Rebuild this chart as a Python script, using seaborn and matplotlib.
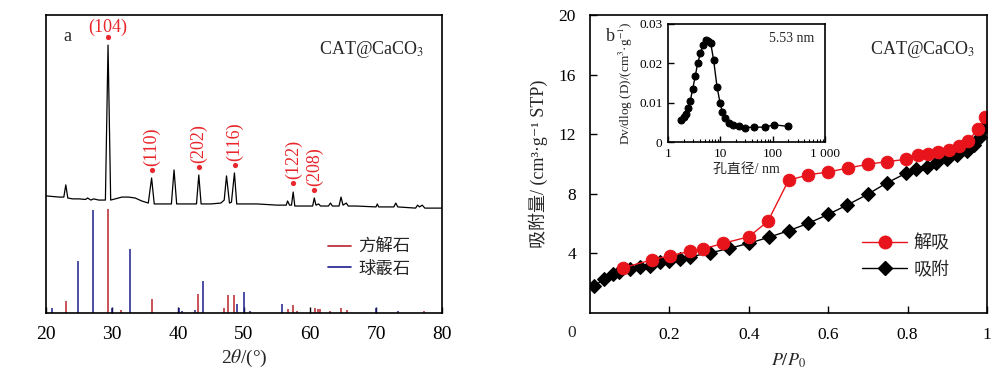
import matplotlib
matplotlib.use("Agg")
import matplotlib.pyplot as plt
from matplotlib.lines import Line2D
import seaborn as sns

# ---- panel a: XRD of CAT@CaCO3 (a.u.) ----
xrd_2theta = [20.0, 21.0, 22.0, 22.7, 23.0, 23.3, 24.0, 25.0, 26.0, 26.3, 26.8, 27.2,
              28.0, 29.0, 29.4, 29.8, 30.5, 31.5, 32.5, 33.5, 34.5, 35.5, 36.0, 36.4,
              37.0, 38.0, 39.0, 39.4, 39.8, 41.0, 42.5, 42.8, 43.15, 43.5, 45.0, 46.5,
              47.0, 47.35, 47.8, 48.1, 48.55, 48.9, 50.0, 52.0, 55.0, 56.4, 56.6, 56.9,
              57.2, 57.45, 57.7, 59.0, 60.4, 60.65, 60.9, 61.3, 61.6, 62.8, 63.1, 63.4,
              64.4, 64.7, 65.0, 65.5, 65.8, 67.0, 70.0, 70.2, 70.4, 72.7, 73.0, 73.3,
              76.0, 76.3, 76.6, 77.0, 77.4, 80.0]
xrd_int = [39.3, 39.1, 38.9, 38.9, 43.0, 38.6, 38.3, 38.3, 38.1, 38.6, 37.9, 38.3,
           37.9, 37.9, 89.9, 37.9, 38.3, 38.9, 38.9, 38.6, 37.6, 36.9, 45.3, 36.6,
           36.6, 36.6, 36.6, 48.0, 36.6, 36.6, 36.6, 36.6, 46.3, 36.6, 36.6, 36.9,
           37.9, 46.0, 36.9, 37.2, 47.0, 36.6, 36.6, 36.6, 36.2, 36.2, 37.6, 36.2,
           36.2, 40.6, 35.9, 35.9, 35.9, 38.6, 36.2, 36.6, 35.9, 35.9, 36.9, 35.9,
           35.9, 38.9, 36.2, 36.9, 35.9, 35.9, 35.6, 36.6, 35.6, 35.6, 36.9, 35.6,
           35.2, 36.2, 35.6, 36.2, 35.2, 35.2]

calcite_2theta = [23.0, 29.4, 31.4, 36.0, 43.1, 47.0, 47.5, 48.5, 56.6, 57.4, 58.1,
                  60.7, 61.2, 61.5, 63.1, 64.7, 65.6, 77.2]
calcite_int = [4.0, 34.8, 1.0, 4.8, 6.3, 1.6, 6.0, 6.0, 1.3, 2.7, 0.7,
               1.8, 1.3, 1.3, 0.7, 1.8, 1.0, 0.7]
vaterite_2theta = [20.95, 24.9, 27.05, 30.0, 32.75, 40.1, 40.6, 42.6, 43.85, 49.0,
                   50.0, 50.95, 55.75, 70.0, 73.4]
vaterite_int = [1.6, 17.6, 34.6, 1.8, 21.4, 1.6, 0.7, 1.0, 10.6, 3.1,
                7.0, 0.7, 2.9, 1.6, 0.7]

hkl_labels = ["(104)", "(110)", "(202)", "(116)", "(122)", "(208)"]
hkl_2theta = [29.4, 36.0, 43.15, 48.6, 57.45, 60.65]
hkl_dot = [92.6, 48.0, 49.0, 49.7, 43.6, 41.3]

# ---- panel b: N2 isotherm ----
p_ads = [0.011, 0.035, 0.057, 0.073, 0.102, 0.126, 0.150, 0.176, 0.200, 0.227, 0.251,
         0.302, 0.351, 0.400, 0.450, 0.500, 0.550, 0.600, 0.648, 0.699, 0.747, 0.796,
         0.820, 0.850, 0.872, 0.898, 0.925, 0.949, 0.966, 0.982, 0.995]
v_ads = [1.81, 2.28, 2.60, 2.73, 2.93, 3.11, 3.13, 3.40, 3.49, 3.62, 3.78,
         4.03, 4.34, 4.68, 5.08, 5.52, 6.02, 6.62, 7.25, 7.96, 8.72, 9.38,
         9.64, 9.82, 10.09, 10.31, 10.58, 10.89, 11.28, 11.83, 12.50]
p_des = [0.084, 0.155, 0.201, 0.252, 0.285, 0.336, 0.400, 0.448, 0.500, 0.550, 0.600,
         0.649, 0.700, 0.747, 0.796, 0.825, 0.852, 0.877, 0.904, 0.930, 0.953, 0.977, 0.995]
v_des = [3.04, 3.56, 3.85, 4.14, 4.30, 4.68, 5.12, 6.15, 8.90, 9.28, 9.46,
         9.73, 9.98, 10.16, 10.31, 10.58, 10.65, 10.83, 10.94, 11.21, 11.56, 12.33, 13.17]

# pore size distribution (inset)
pore_d = [1.80, 1.99, 2.17, 2.37, 2.67, 2.95, 3.33, 3.68, 4.15, 4.67, 5.24, 5.82,
          6.53, 7.45, 8.65, 9.87, 10.9, 12.5, 14.7, 17.5, 22.4, 29.2, 44.7, 70.3, 107, 194]
pore_dv = [0.0057, 0.0064, 0.0071, 0.0086, 0.0105, 0.0134, 0.0168, 0.0200, 0.0225,
           0.0246, 0.0259, 0.0257, 0.0252, 0.0208, 0.0140, 0.0100, 0.0077, 0.0060,
           0.0048, 0.0043, 0.0041, 0.0037, 0.0038, 0.0038, 0.0044, 0.0040]

sns.set_style("ticks")
plt.rcParams["font.family"] = ["Liberation Serif", "Noto Sans CJK SC", "DejaVu Serif"]
plt.rcParams["mathtext.fontset"] = "stix"
plt.rcParams["axes.linewidth"] = 1.2
plt.rcParams["xtick.direction"] = "in"
plt.rcParams["ytick.direction"] = "in"
plt.rcParams["xtick.color"] = "black"
plt.rcParams["ytick.color"] = "black"
plt.rcParams["axes.edgecolor"] = "black"

red = "#E8141B"
label_red = "#E8262B"
calcite_c = "#B8232B"
vaterite_c = "#1C1C8C"

fig = plt.figure(figsize=(10, 3.74), dpi=100)

# ---------- panel a ----------
ax1 = fig.add_axes([0.046, 0.163, 0.396, 0.797])
sns.lineplot(x=xrd_2theta, y=xrd_int, sort=False, color="black", lw=0.9, ax=ax1)
ax1.vlines(calcite_2theta, 0, calcite_int, colors=calcite_c, lw=1.1)
ax1.vlines(vaterite_2theta, 0, vaterite_int, colors=vaterite_c, lw=1.1)
ax1.scatter(hkl_2theta, hkl_dot, s=14, color=label_red, zorder=5, linewidths=0)
for lbl, x, y in zip(hkl_labels, hkl_2theta, hkl_dot):
    if lbl == "(104)":
        ax1.annotate(lbl, (x, y), xytext=(0, 1.0), textcoords="offset points",
                     ha="center", va="bottom", color=label_red, fontsize=13)
    else:
        ax1.annotate(lbl, (x, y), xytext=(0, 3), textcoords="offset points",
                     rotation=90, ha="center", va="bottom", color=label_red, fontsize=13)
ax1.set_xlim(20, 80)
ax1.set_ylim(0, 100)
ax1.set_xticks(range(20, 81, 10))
ax1.set_yticks([])
ax1.tick_params(axis="x", labelsize=14, length=4, width=1, pad=9)
ax1.set_xlabel(r"2$\theta$/(°)", fontsize=14, labelpad=4)
ax1.text(0.045, 0.955, "a", transform=ax1.transAxes, fontsize=13, va="top", ha="left")
ax1.text(0.955, 0.92, r"CAT@CaCO$_3$", transform=ax1.transAxes, fontsize=13,
         va="top", ha="right")
h1 = [Line2D([], [], color=calcite_c, lw=1.2), Line2D([], [], color=vaterite_c, lw=1.2)]
ax1.legend(h1, ["方解石", "球霰石"], loc="upper left", bbox_to_anchor=(0.712, 0.245),
           frameon=False, fontsize=12.5, handlelength=1.3, handletextpad=0.45,
           labelspacing=0.3, borderpad=0, borderaxespad=0)

# ---------- panel b ----------
ax2 = fig.add_axes([0.590, 0.163, 0.397, 0.797])
sns.lineplot(x=p_ads, y=v_ads, sort=False, color="black", lw=1.0, marker="D",
             markersize=7, markeredgecolor="black", ax=ax2)
sns.lineplot(x=p_des, y=v_des, sort=False, color=red, lw=1.0, marker="o",
             markersize=9, markeredgecolor=red, ax=ax2)
ax2.set_xlim(0, 1)
ax2.set_ylim(0, 20)
ax2.set_xticks([0.2, 0.4, 0.6, 0.8, 1.0])
ax2.set_xticklabels(["0.2", "0.4", "0.6", "0.8", "1"])
ax2.set_yticks([4, 8, 12, 16, 20])
ax2.set_yticklabels(["4", "8", "12", "16", "20"])
ax2.tick_params(labelsize=12.5, length=5, width=1, pad=10)
ax2.text(-0.045, -0.067, "0", transform=ax2.transAxes, fontsize=12.5,
         ha="center", va="center")
ax2.set_xlabel(r"$P/P_0$", fontsize=13, labelpad=6)
ax2.set_ylabel("吸附量/ (cm³·g⁻¹ STP)", fontsize=13, labelpad=8)
ax2.text(0.04, 0.955, "b", transform=ax2.transAxes, fontsize=13, va="top", ha="left")
ax2.text(0.97, 0.92, r"CAT@CaCO$_3$", transform=ax2.transAxes, fontsize=13,
         va="top", ha="right")
h2 = [Line2D([], [], color=red, lw=1.0, marker="o", markersize=9),
      Line2D([], [], color="black", lw=1.0, marker="D", markersize=7)]
ax2.legend(h2, ["解吸", "吸附"], loc="upper left", bbox_to_anchor=(0.685, 0.26),
           frameon=False, fontsize=13, handlelength=2.5, handletextpad=0.35,
           labelspacing=0.45, borderpad=0, borderaxespad=0)

# ---------- inset ----------
axi = fig.add_axes([0.668, 0.620, 0.157, 0.316])
sns.lineplot(x=pore_d, y=pore_dv, sort=False, color="black", lw=1.0, marker="o",
             markersize=5, markeredgecolor="black", ax=axi)
axi.set_xscale("log")
axi.set_xlim(1, 1000)
axi.set_ylim(0, 0.03)
axi.set_xticks([1, 10, 100, 1000])
axi.set_xticklabels(["1", "10", "100", "1 000"])
axi.set_yticks([0, 0.01, 0.02, 0.03])
axi.set_yticklabels(["0", "0.01", "0.02", "0.03"])
axi.tick_params(which="major", labelsize=9.5, length=4, width=1, pad=4)
axi.tick_params(which="minor", length=2.5, width=0.8)
axi.tick_params(axis="y", which="minor", left=False)
axi.set_xlabel("孔直径/ nm", fontsize=10, labelpad=2)
axi.set_ylabel(r"Dv/dlog (D)/(cm$^{3}$·g$^{-1}$)", fontsize=9.5, labelpad=3)
axi.text(0.93, 0.88, "5.53 nm", transform=axi.transAxes, fontsize=10,
         ha="right", va="center")

fig.savefig("out.png", dpi=100)
